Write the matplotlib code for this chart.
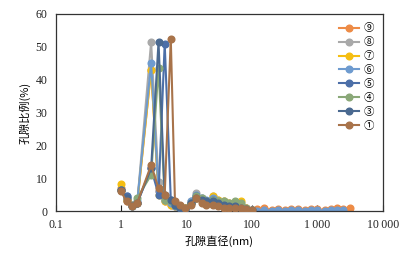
import matplotlib
matplotlib.use("Agg")
import matplotlib.pyplot as plt
from matplotlib.ticker import FixedLocator, FixedFormatter, NullLocator

x_left = [0.98, 1.2, 1.45, 1.75, 2.85, 3.7, 4.6, 5.7, 6.6, 8.0, 9.5, 11.5, 14, 17, 20, 25, 30, 37, 45, 55, 67, 80, 100]
x_tail = [120, 150, 200, 250, 320, 400, 500, 650, 800, 1000, 1300, 1600, 2000, 2500, 3100]

y9 = [7.0, 3.0, 2.0, 2.5, 43.0, 6.0, 3.0, 2.0, 1.5, 1.0, 1.0, 2.5, 4.0, 3.0, 3.0, 3.5, 3.0, 2.5, 2.0, 2.0, 2.0, 0.8, 0.3]
y9_tail = [0.5, 0.8, 0.4, 0.5, 0.4, 0.5, 0.5, 0.4, 0.5, 0.5, 0.4, 0.5, 0.8, 0.5, 1.0]
y8 = [6.5, 4.0, 2.0, 2.5, 51.5, 9.0, 4.0, 3.0, 2.0, 1.0, 1.0, 3.0, 5.5, 4.0, 3.0, 4.5, 3.5, 3.0, 2.5, 2.0, 2.0, 1.0, 0.3]
y7 = [8.2, 3.5, 1.8, 2.5, 43.0, 5.0, 3.0, 2.0, 1.5, 1.0, 1.0, 2.5, 4.0, 3.5, 3.0, 4.5, 3.5, 3.0, 2.5, 2.5, 3.0, 1.0, 0.3]
y6 = [6.5, 4.5, 1.8, 3.0, 45.0, 6.0, 3.5, 2.5, 1.5, 0.5, 0.5, 3.0, 5.0, 4.0, 3.5, 4.0, 3.0, 2.5, 2.0, 1.5, 1.5, 0.5, 0.2]
y6_tail = [0.1, 0.2, 0.1, 0.2, 0.1, 0.2, 0.2, 0.1, 0.2, 0.2, 0.1, 0.2, 0.2, 0.2]
y5 = [6.5, 4.5, 1.5, 2.5, 13.0, 5.0, 51.0, 3.5, 2.0, 1.0, 0.5, 2.5, 4.5, 3.5, 3.0, 3.5, 2.5, 2.0, 1.5, 1.5, 1.0, 0.5, 0.2]
y4 = [6.5, 3.5, 1.5, 4.0, 11.0, 43.5, 3.5, 3.0, 2.0, 1.5, 1.0, 2.5, 4.5, 4.0, 3.0, 3.5, 3.0, 3.0, 2.5, 3.0, 2.5, 1.0, 0.3]
y3 = [6.5, 4.0, 1.5, 2.5, 13.0, 51.5, 5.0, 3.5, 2.0, 1.0, 0.5, 2.5, 4.0, 3.5, 3.0, 3.0, 2.5, 2.0, 1.5, 1.5, 1.0, 0.5, 0.2]
y1 = [6.0, 3.0, 1.5, 2.5, 14.0, 7.0, 5.0, 52.5, 3.0, 2.0, 1.0, 2.0, 4.0, 2.5, 2.0, 2.0, 1.5, 1.0, 1.0, 1.0, 0.8, 0.5, 0.3]

labels = ["⑨", "⑧", "⑦", "⑥", "⑤", "④", "③", "①"]
colors = ["#ED8B46", "#A9A9A9", "#F5BE12", "#6E9BCF", "#4C6FA8", "#8AA878", "#4A6990", "#A8734A"]

xticks = [0.1, 1, 10, 100, 1000, 10000]
xticklabels = ["0.1", "1", "10", "100", "1\u2009000", "10\u2009000"]
yticks = [0, 10, 20, 30, 40, 50, 60]

num_font = ["Liberation Serif", "DejaVu Serif"]
cjk_font = ["Noto Sans CJK SC", "DejaVu Sans"]

fig = plt.figure(figsize=(4.03, 2.54), dpi=100)
ax = fig.add_axes([0.139, 0.169, 0.811, 0.776])

series = [
    (x_left + x_tail, y9 + y9_tail),
    (x_left, y8),
    (x_left, y7),
    (x_left + x_tail[:-1], y6 + y6_tail),
    (x_left, y5),
    (x_left, y4),
    (x_left, y3),
    (x_left, y1),
]
handles = {}
for i in range(8):
    xs, ys = series[i]
    h, = ax.plot(xs, ys, color=colors[i], marker="o", markersize=4.8, linewidth=1.5,
                 label=labels[i], zorder=2 + i * 0.1)
    handles[i] = h

ax.set_xscale("log")
ax.set_xlim(0.1, 10000)
ax.set_ylim(0, 60)
ax.xaxis.set_major_locator(FixedLocator(xticks))
ax.xaxis.set_major_formatter(FixedFormatter(xticklabels))
ax.xaxis.set_minor_locator(NullLocator())
ax.set_yticks(yticks)
ax.tick_params(axis="x", direction="in", length=4, width=0.8, colors="#222222", labelsize=8.5, pad=6)
ax.tick_params(axis="y", length=0, labelsize=8.5, pad=6)
for lab in ax.get_xticklabels() + ax.get_yticklabels():
    lab.set_family(num_font)
    lab.set_color("#222222")
for s in ax.spines.values():
    s.set_color("#333333")
    s.set_linewidth(0.9)

ax.set_xlabel("孔隙直径(nm)", family=cjk_font, fontsize=8, labelpad=3)
ax.set_ylabel("孔隙比例(%)", family=cjk_font, fontsize=8, labelpad=4)

leg = ax.legend([handles[i] for i in range(8)], labels, loc="upper right",
                frameon=False, prop={"family": ["Noto Sans CJK SC", "DejaVu Sans"], "size": 7.5},
                handlelength=2.0, labelspacing=0.38, handletextpad=0.4,
                borderaxespad=0.3, bbox_to_anchor=(0.995, 0.99))

fig.savefig("out.png", dpi=100)
